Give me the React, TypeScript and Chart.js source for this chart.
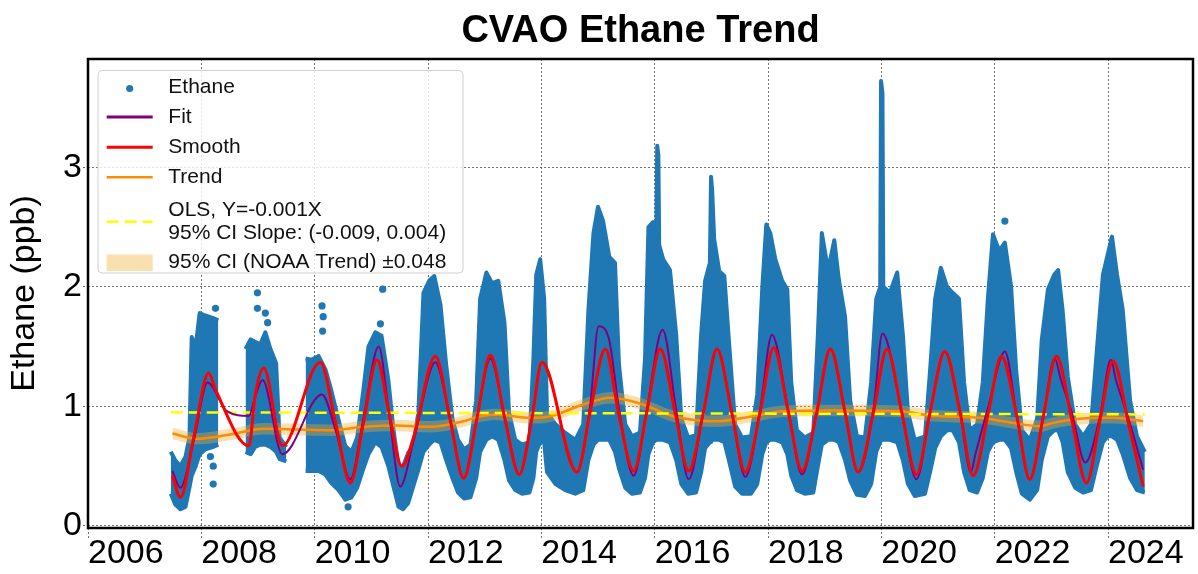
import { useEffect, useRef } from 'react';
import { Chart, registerables } from 'chart.js';

Chart.register(...registerables);

const FONT = '"Liberation Sans", Arial, Helvetica, sans-serif';

// ---- tick labels ----
const xTickYears = [2006, 2008, 2010, 2012, 2014, 2016, 2018, 2020, 2022, 2024];
const yTickValues = [0, 1, 2, 3];

// ---- Ethane observations: envelope of the dense scatter (null = data gap) ----
const ethaneYears = [
  2007.46, 2007.54, 2007.63, 2007.72, 2007.79, 2007.83, 2007.9, 2007.97, 2008.07, 2008.2, 2008.3,
  2008.55,
  2008.78, 2008.87, 2008.95, 2009.04, 2009.13, 2009.22, 2009.32, 2009.38, 2009.5,
  2009.7,
  2009.84, 2009.94, 2010.07, 2010.19, 2010.29, 2010.42, 2010.54, 2010.65, 2010.75, 2010.86,
  2010.95, 2011.07, 2011.18, 2011.3, 2011.39, 2011.48, 2011.56, 2011.65, 2011.74, 2011.83,
  2011.92, 2012.02, 2012.11, 2012.22, 2012.32, 2012.43, 2012.53, 2012.64, 2012.75, 2012.85,
  2012.92, 2013.03, 2013.13, 2013.24, 2013.35, 2013.43, 2013.54, 2013.66, 2013.79, 2013.86,
  2013.91, 2013.98, 2014.05, 2014.1, 2014.25, 2014.42, 2014.6, 2014.74, 2014.83, 2014.92,
  2015.0, 2015.09, 2015.2, 2015.3, 2015.37, 2015.48, 2015.6, 2015.74, 2015.83, 2015.89,
  2015.97, 2016.03, 2016.045, 2016.065, 2016.08, 2016.15, 2016.27, 2016.38, 2016.47, 2016.59, 2016.73,
  2016.82, 2016.89, 2016.975, 2016.995, 2017.015, 2017.05, 2017.14, 2017.23, 2017.31, 2017.42, 2017.54,
  2017.7, 2017.81, 2017.9, 2017.97, 2018.04, 2018.13, 2018.25, 2018.34, 2018.41, 2018.51,
  2018.65, 2018.8, 2018.88, 2018.95, 2019.06, 2019.17, 2019.25, 2019.36, 2019.45, 2019.57,
  2019.71, 2019.82, 2019.91, 2019.98, 2019.995, 2020.02, 2020.035, 2020.15, 2020.28, 2020.38, 2020.47,
  2020.59, 2020.77, 2020.86, 2020.95, 2021.05, 2021.16, 2021.26, 2021.37, 2021.46, 2021.56,
  2021.69, 2021.79, 2021.88, 2021.97, 2022.08, 2022.18, 2022.29, 2022.38, 2022.48, 2022.62,
  2022.75, 2022.83, 2022.94, 2023.05, 2023.12, 2023.2, 2023.29, 2023.42, 2023.56, 2023.7,
  2023.8, 2023.91, 2024.0, 2024.07, 2024.16, 2024.26, 2024.39, 2024.51, 2024.65,
];
const ethaneLow = [
  0.27, 0.18, 0.14, 0.16, 0.32, 0.42, 0.5, 0.6, 0.64, 0.66, 0.68,
  null,
  0.62, 0.6, 0.66, 0.68, 0.68, 0.66, 0.62, 0.56, 0.54,
  null,
  0.46, 0.46, 0.46, 0.43, 0.36, 0.3, 0.22, 0.24, 0.32, 0.48,
  0.6, 0.7, 0.66, 0.5, 0.33, 0.16, 0.14, 0.19, 0.33, 0.47,
  0.62, 0.68, 0.72, 0.7, 0.55, 0.4, 0.28, 0.23, 0.24, 0.4,
  0.62, 0.72, 0.75, 0.72, 0.55, 0.38, 0.3, 0.27, 0.28, 0.4,
  0.62, 0.7, 0.7, 0.45, 0.35, 0.3, 0.27, 0.3, 0.55, 0.68,
  0.72, 0.72, 0.72, 0.62, 0.48, 0.32, 0.27, 0.28, 0.4, 0.6,
  0.7, 0.72, 0.72, 0.72, 0.72, 0.72, 0.7, 0.55, 0.35, 0.27, 0.28,
  0.45, 0.65, 0.7, 0.7, 0.72, 0.72, 0.72, 0.7, 0.55, 0.33, 0.27,
  0.27, 0.35, 0.6, 0.7, 0.72, 0.72, 0.7, 0.6, 0.42, 0.3,
  0.27, 0.28, 0.5, 0.68, 0.72, 0.72, 0.7, 0.55, 0.38, 0.26,
  0.25, 0.35, 0.62, 0.7, 0.72, 0.72, 0.72, 0.72, 0.7, 0.55, 0.35,
  0.25, 0.27, 0.45, 0.65, 0.75, 0.8, 0.8, 0.7, 0.45, 0.3,
  0.28, 0.4, 0.62, 0.7, 0.72, 0.72, 0.65, 0.45, 0.27, 0.22,
  0.3, 0.55, 0.75, 0.8, 0.8, 0.7, 0.45, 0.32, 0.28, 0.3,
  0.5, 0.7, 0.75, 0.75, 0.72, 0.6, 0.4, 0.3, 0.28,
];
const ethaneHigh = [
  0.62, 0.55, 0.5, 0.58, 0.74, 1.58, 1.5, 1.78, 1.76, 1.74, 1.72,
  null,
  1.48, 1.56, 1.54, 1.52, 1.62, 1.48, 1.36, 0.74, 0.66,
  null,
  1.4, 1.39, 1.42, 1.31, 1.14, 0.89, 0.67, 0.62, 0.74, 1.14,
  1.5, 1.62, 1.59, 1.22, 0.81, 0.5, 0.5, 0.61, 0.67, 0.95,
  1.95, 2.05, 2.09, 1.85, 1.35, 0.9, 0.72, 0.64, 0.68, 1.05,
  1.9, 2.12, 2.03, 2.05, 1.7, 0.95, 0.72, 0.68, 0.7, 1.4,
  2.1, 2.23, 1.9, 0.95, 0.85, 0.78, 0.72, 0.85, 1.8, 2.45,
  2.67, 2.55, 2.25, 2.2, 1.35, 0.85, 0.75, 0.78, 1.4, 2.5,
  2.54, 2.45, 3.18, 3.1, 2.35, 2.23, 2.14, 1.6, 0.9, 0.74, 0.76,
  1.6, 2.05, 2.2, 2.92, 2.8, 2.4, 2.13, 2.09, 1.55, 0.85, 0.74,
  0.75, 1.1, 2.0, 2.52, 2.45, 2.23, 2.05, 1.98, 1.2, 0.8,
  0.74, 0.78, 1.6, 2.45, 2.14, 2.39, 2.06, 1.75, 1.05, 0.75,
  0.74, 1.2, 1.9, 2.0, 3.72, 3.62, 2.0, 1.95, 2.12, 1.6, 0.95,
  0.72, 0.75, 1.3, 1.9, 2.16, 2.0, 1.95, 1.9, 1.2, 0.8,
  0.85, 1.2, 1.9, 2.44, 2.3, 2.37, 2.0, 1.3, 0.8, 0.72,
  0.9, 1.55, 1.98, 2.1, 2.14, 1.8, 1.25, 0.85, 0.75, 0.85,
  1.45, 2.1, 2.28, 2.42, 2.1, 1.81, 1.05, 0.75, 0.62,
];
const outlierYears = [2008.25, 2008.21, 2008.21, 2008.16, 2008.99, 2008.99, 2009.13, 2009.17, 2010.13, 2010.15, 2010.14, 2010.59, 2011.2, 2011.16, 2022.18];
const outlierValues = [1.82, 0.35, 0.5, 0.58, 1.95, 1.82, 1.78, 1.7, 1.84, 1.75, 1.63, 0.16, 1.98, 1.69, 2.55];

// ---- Smooth (red) ----
const smoothYears = [
  2007.49, 2007.63, 2007.87, 2008.13, 2008.25, 2008.84, 2008.95, 2009.1, 2009.43, 2010.1,
  2010.37, 2010.63, 2010.86, 2011.1, 2011.31, 2011.54, 2011.75, 2012.13, 2012.39, 2012.63,
  2012.86, 2013.1, 2013.36, 2013.61, 2013.83, 2014.01, 2014.63, 2014.86, 2015.13, 2015.36,
  2015.63, 2015.86, 2016.1, 2016.36, 2016.6, 2016.86, 2017.1, 2017.36, 2017.6, 2017.86,
  2018.1, 2018.36, 2018.6, 2018.86, 2019.1, 2019.36, 2019.59, 2019.86, 2020.1, 2020.36,
  2020.62, 2020.86, 2021.12, 2021.39, 2021.62, 2021.89, 2022.12, 2022.39, 2022.62, 2022.86,
  2023.09, 2023.36, 2023.62, 2023.86, 2024.09, 2024.36, 2024.62,
];
const smoothValues = [
  0.42, 0.24, 0.75, 1.28, 1.14, 0.67, 1.09, 1.32, 0.67, 1.37,
  0.86, 0.36, 0.86, 1.39, 0.95, 0.5, 0.75, 1.42, 0.89, 0.4,
  0.89, 1.43, 0.89, 0.43, 0.89, 1.37, 0.45, 0.95, 1.48, 0.95,
  0.46, 0.95, 1.48, 0.95, 0.46, 0.95, 1.48, 0.95, 0.45, 0.95,
  1.49, 0.95, 0.46, 0.95, 1.48, 0.95, 0.45, 0.95, 1.48, 0.95,
  0.43, 0.95, 1.46, 0.95, 0.42, 0.95, 1.42, 0.92, 0.39, 0.92,
  1.42, 0.89, 0.36, 0.89, 1.38, 0.86, 0.33,
];

// ---- Fit (purple) ----
const fitYears = [
  2007.49, 2007.63, 2007.87, 2008.11, 2008.45, 2008.84, 2008.95, 2009.08, 2009.43, 2010.13,
  2010.37, 2010.63, 2010.86, 2011.13, 2011.31, 2011.51, 2011.75, 2012.13, 2012.39, 2012.63,
  2012.86, 2013.1, 2013.36, 2013.61, 2013.83, 2014.01, 2014.63, 2014.86, 2015.01, 2015.19,
  2015.38, 2015.63, 2015.86, 2016.14, 2016.38, 2016.6, 2016.86, 2017.1, 2017.36, 2017.6,
  2017.86, 2018.07, 2018.36, 2018.6, 2018.86, 2019.1, 2019.36, 2019.59, 2019.86, 2020.02,
  2020.36, 2020.62, 2020.86, 2021.12, 2021.39, 2021.58, 2021.66, 2021.89, 2022.18, 2022.39,
  2022.62, 2022.86, 2023.06, 2023.17, 2023.36, 2023.6, 2023.86, 2024.05, 2024.14, 2024.36,
  2024.62,
];
const fitValues = [
  0.46, 0.32, 0.72, 1.2, 0.96, 0.92, 1.08, 1.22, 0.6, 1.1,
  0.8, 0.39, 0.9, 1.5, 0.95, 0.33, 0.72, 1.37, 0.89, 0.4,
  0.89, 1.4, 0.89, 0.43, 0.89, 1.37, 0.45, 1.0, 1.67, 1.57,
  0.95, 0.42, 0.97, 1.64, 0.97, 0.39, 0.95, 1.48, 0.95, 0.41,
  0.97, 1.6, 0.96, 0.43, 0.95, 1.48, 0.95, 0.45, 0.97, 1.61,
  0.95, 0.39, 0.95, 1.46, 0.95, 0.45, 0.6, 1.0, 1.46, 0.92,
  0.39, 0.92, 1.4, 1.22, 0.95, 0.53, 0.92, 1.39, 1.22, 0.9,
  0.47,
];

// ---- NOAA trend (orange) ----
const trendYears = [
  2007.49, 2007.93, 2008.51, 2009.1, 2009.69, 2010.28, 2010.86, 2011.45, 2012.04, 2012.63,
  2012.92, 2013.22, 2013.8, 2014.16, 2014.74, 2015.22, 2015.74, 2016.33, 2017.1, 2017.74,
  2018.27, 2019.15, 2020.33, 2020.86, 2021.74, 2022.33, 2022.8, 2023.03, 2023.5, 2024.09,
  2024.62,
];
const trendValues = [
  0.773, 0.729, 0.765, 0.813, 0.807, 0.801, 0.829, 0.84, 0.829, 0.876,
  0.918, 0.932, 0.904, 0.918, 1.016, 1.072, 1.024, 0.918, 0.876, 0.918,
  0.96, 0.966, 0.96, 0.924, 0.904, 0.862, 0.834, 0.862, 0.896, 0.904,
  0.876,
];
const ciHalfWidth = 0.048;

// ---- OLS line ----
const olsYears = [2007.46, 2024.65];
const olsValues = [0.95, 0.933];

const BLUE = '#1f77b4';
const PURPLE = '#800080';
const RED = '#ff0000';
const ORANGE = '#ff8c00';
const YELLOW = '#ffff00';
const CI_FILL = 'rgba(242,172,45,0.38)';
const GRID = 'rgba(80,80,80,0.8)';

const pts = (xs: number[], ys: (number | null)[]) => xs.map((x, i) => ({ x, y: ys[i] }));

const framePlugin = {
  id: 'frameLegendTitle',
  afterDatasetsDraw(chart: any) {
    const { ctx, chartArea } = chart;
    const { left, top, right, bottom } = chartArea;
    ctx.save();
    // axes frame
    ctx.strokeStyle = '#000';
    ctx.lineWidth = 2.5;
    ctx.setLineDash([]);
    ctx.strokeRect(left, top, right - left, bottom - top);

    // legend box
    const bx = left + 10;
    const by = top + 11.5;
    const bw = 365;
    const bh = 202.5;
    const r = 4;
    ctx.beginPath();
    ctx.moveTo(bx + r, by);
    ctx.lineTo(bx + bw - r, by);
    ctx.quadraticCurveTo(bx + bw, by, bx + bw, by + r);
    ctx.lineTo(bx + bw, by + bh - r);
    ctx.quadraticCurveTo(bx + bw, by + bh, bx + bw - r, by + bh);
    ctx.lineTo(bx + r, by + bh);
    ctx.quadraticCurveTo(bx, by + bh, bx, by + bh - r);
    ctx.lineTo(bx, by + r);
    ctx.quadraticCurveTo(bx, by, bx + r, by);
    ctx.closePath();
    ctx.fillStyle = 'rgba(255,255,255,0.8)';
    ctx.fill();
    ctx.strokeStyle = '#d0d0d0';
    ctx.lineWidth = 1;
    ctx.stroke();

    const hx0 = left + 18.7;
    const hx1 = left + 64.7;
    const tx = left + 80.3;
    const line = (y: number, color: string, w: number, dash: number[] = []) => {
      ctx.beginPath();
      ctx.setLineDash(dash);
      ctx.strokeStyle = color;
      ctx.lineWidth = w;
      ctx.moveTo(hx0, y);
      ctx.lineTo(hx1, y);
      ctx.stroke();
      ctx.setLineDash([]);
    };
    // Ethane marker
    ctx.beginPath();
    ctx.fillStyle = BLUE;
    ctx.arc((hx0 + hx1) / 2, top + 29.5, 3.6, 0, Math.PI * 2);
    ctx.fill();
    line(top + 58, PURPLE, 3);
    line(top + 88.3, RED, 3);
    line(top + 118.3, ORANGE, 2.5);
    line(top + 162.7, YELLOW, 2.5, [12, 6]);
    ctx.fillStyle = CI_FILL;
    ctx.fillRect(hx0, top + 195.5, hx1 - hx0, 16.5);

    ctx.fillStyle = '#111';
    ctx.font = `21px ${FONT}`;
    ctx.textAlign = 'left';
    ctx.textBaseline = 'middle';
    ctx.fillText('Ethane', tx, top + 28.5);
    ctx.fillText('Fit', tx, top + 58.5);
    ctx.fillText('Smooth', tx, top + 88.5);
    ctx.fillText('Trend', tx, top + 118.5);
    ctx.fillText('OLS, Y=-0.001X', tx, top + 151.5);
    ctx.fillText('95% CI Slope: (-0.009, 0.004)', tx, top + 174);
    ctx.fillText('95% CI (NOAA Trend) \u00b10.048', tx, top + 203);

    // title
    ctx.fillStyle = '#000';
    ctx.font = `bold 38px ${FONT}`;
    ctx.textAlign = 'center';
    ctx.textBaseline = 'middle';
    ctx.fillText('CVAO Ethane Trend', (left + right) / 2, 32);
    ctx.restore();
  },
};

export default function App() {
  const canvasRef = useRef<HTMLCanvasElement | null>(null);

  useEffect(() => {
    const canvas = canvasRef.current;
    if (!canvas) return;
    const lineBase = { pointRadius: 0, pointHoverRadius: 0, tension: 0, spanGaps: false };
    const chart = new Chart(canvas, {
      type: 'line',
      data: {
        datasets: [
          {
            ...lineBase,
            label: 'EthaneLow',
            data: pts(ethaneYears, ethaneLow),
            borderColor: BLUE,
            borderWidth: 4,
            borderJoinStyle: 'round',
            fill: false,
            order: 10,
          },
          {
            ...lineBase,
            label: 'Ethane',
            data: pts(ethaneYears, ethaneHigh),
            borderColor: BLUE,
            borderWidth: 4,
            borderJoinStyle: 'round',
            backgroundColor: BLUE,
            fill: '-1',
            order: 10,
          },
          {
            label: 'EthaneOutliers',
            data: pts(outlierYears, outlierValues),
            showLine: false,
            pointRadius: 3.6,
            pointBackgroundColor: BLUE,
            pointBorderWidth: 0,
            order: 10,
          },
          {
            ...lineBase,
            label: 'CILow',
            data: pts(trendYears, trendValues.map((v) => v - ciHalfWidth)),
            borderWidth: 0,
            borderColor: 'rgba(0,0,0,0)',
            cubicInterpolationMode: 'monotone',
            fill: false,
            order: 9,
          },
          {
            ...lineBase,
            label: '95% CI (NOAA Trend)',
            data: pts(trendYears, trendValues.map((v) => v + ciHalfWidth)),
            borderWidth: 0,
            borderColor: 'rgba(0,0,0,0)',
            backgroundColor: CI_FILL,
            cubicInterpolationMode: 'monotone',
            fill: '-1',
            order: 9,
          },
          {
            ...lineBase,
            label: 'Trend',
            data: pts(trendYears, trendValues),
            borderColor: ORANGE,
            borderWidth: 2.5,
            cubicInterpolationMode: 'monotone',
            fill: false,
            order: 8,
          },
          {
            ...lineBase,
            label: 'OLS',
            data: pts(olsYears, olsValues),
            borderColor: YELLOW,
            borderWidth: 2.5,
            borderDash: [12, 6],
            fill: false,
            order: 7,
          },
          {
            ...lineBase,
            label: 'Fit',
            data: pts(fitYears, fitValues),
            borderColor: PURPLE,
            borderWidth: 2,
            cubicInterpolationMode: 'monotone',
            fill: false,
            order: 6,
          },
          {
            ...lineBase,
            label: 'Smooth',
            data: pts(smoothYears, smoothValues),
            borderColor: RED,
            borderWidth: 3,
            cubicInterpolationMode: 'monotone',
            fill: false,
            order: 5,
          },
        ],
      },
      options: {
        responsive: false,
        animation: false,
        devicePixelRatio: 1,
        layout: { padding: { top: 59, right: 5, left: 0, bottom: 0 } },
        plugins: {
          legend: { display: false },
          title: { display: false },
          tooltip: { enabled: false },
        },
        scales: {
          x: {
            type: 'linear',
            position: 'bottom',
            min: 2006,
            max: 2025.5,
            afterBuildTicks: (axis: any) => {
              axis.ticks = xTickYears.map((v) => ({ value: v }));
            },
            afterFit: (axis: any) => {
              axis.height = 46;
            },
            grid: {
              color: GRID,
              lineWidth: 1,
              tickLength: 12,
              tickColor: GRID,
              tickWidth: 1,
              tickBorderDash: [2, 2],
            },
            border: { display: false, dash: [2, 2] },
            ticks: {
              autoSkip: false,
              maxRotation: 0,
              align: 'start',
              padding: 0,
              color: '#000',
              font: { family: FONT, size: 34, lineHeight: 0.8 },
              callback: (v: any) => String(v),
            },
          },
          y: {
            type: 'linear',
            min: -0.017,
            max: 3.905,
            afterBuildTicks: (axis: any) => {
              axis.ticks = yTickValues.map((v) => ({ value: v }));
            },
            afterFit: (axis: any) => {
              axis.width = 88;
            },
            grid: {
              color: GRID,
              lineWidth: 1,
              tickLength: 5,
              tickColor: GRID,
              tickWidth: 1,
              tickBorderDash: [2, 2],
            },
            border: { display: false, dash: [2, 2] },
            ticks: {
              padding: 1,
              color: '#000',
              font: { family: FONT, size: 34 },
              callback: (v: any) => String(v),
            },
            title: {
              display: true,
              text: 'Ethane (ppb)',
              color: '#000',
              font: { family: FONT, size: 34 },
              padding: { top: 4, bottom: 0 },
            },
          },
        },
      },
      plugins: [framePlugin],
    } as any);
    return () => chart.destroy();
  }, []);

  return (
    <div style={{ position: 'absolute', left: 0, top: 0, width: 1198, height: 574, background: '#fff' }}>
      <canvas ref={canvasRef} width={1198} height={574} />
    </div>
  );
}
